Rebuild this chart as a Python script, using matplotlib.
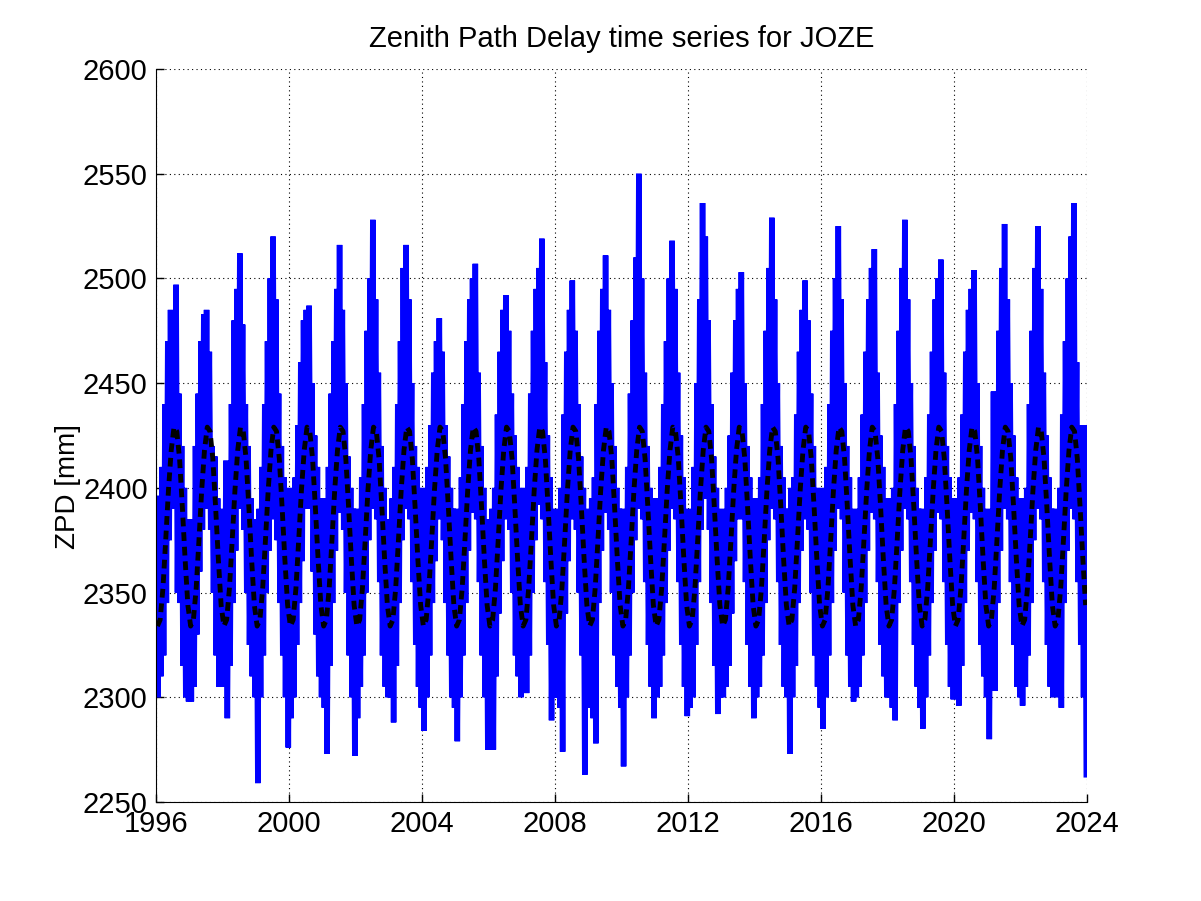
import numpy as np
import matplotlib
matplotlib.use("Agg")
import matplotlib.pyplot as plt

plt.rcParams['font.family'] = ['Liberation Sans', 'DejaVu Sans']

# years covered by the series
years = list(range(1996, 2024))

# monthly upper excursions of the ZPD series [mm], one row per year (Jan..Dec)
zpd_high = [
    [2395, 2385, 2410, 2440, 2470, 2485, 2480, 2497, 2445, 2420, 2400, 2385],  # 1996
    [2385, 2380, 2420, 2445, 2470, 2483, 2485, 2465, 2420, 2415, 2395, 2385],  # 1997
    [2390, 2413, 2405, 2440, 2480, 2495, 2512, 2478, 2440, 2420, 2395, 2380],  # 1998
    [2385, 2390, 2410, 2440, 2470, 2500, 2520, 2490, 2445, 2420, 2405, 2395],  # 1999
    [2400, 2390, 2405, 2430, 2460, 2480, 2485, 2487, 2450, 2425, 2410, 2395],  # 2000
    [2385, 2395, 2410, 2445, 2470, 2495, 2516, 2485, 2450, 2415, 2400, 2390],  # 2001
    [2390, 2385, 2405, 2440, 2475, 2500, 2528, 2490, 2455, 2420, 2400, 2385],  # 2002
    [2385, 2395, 2410, 2440, 2470, 2505, 2516, 2490, 2450, 2420, 2410, 2395],  # 2003
    [2400, 2395, 2410, 2430, 2455, 2470, 2481, 2465, 2430, 2415, 2400, 2390],  # 2004
    [2390, 2385, 2405, 2440, 2470, 2490, 2500, 2507, 2455, 2420, 2400, 2385],  # 2005
    [2385, 2390, 2400, 2435, 2465, 2485, 2492, 2475, 2445, 2425, 2410, 2395],  # 2006
    [2400, 2395, 2410, 2445, 2475, 2495, 2505, 2519, 2460, 2425, 2405, 2385],  # 2007
    [2390, 2385, 2400, 2435, 2465, 2485, 2499, 2475, 2440, 2415, 2400, 2385],  # 2008
    [2390, 2395, 2405, 2440, 2475, 2495, 2511, 2485, 2450, 2420, 2400, 2390],  # 2009
    [2390, 2385, 2410, 2445, 2480, 2510, 2550, 2500, 2455, 2420, 2400, 2390],  # 2010
    [2395, 2390, 2410, 2440, 2470, 2500, 2518, 2495, 2455, 2425, 2405, 2390],  # 2011
    [2385, 2390, 2410, 2450, 2490, 2536, 2520, 2480, 2440, 2415, 2400, 2385],  # 2012
    [2390, 2385, 2400, 2425, 2455, 2480, 2495, 2503, 2450, 2420, 2405, 2390],  # 2013
    [2395, 2390, 2405, 2440, 2475, 2505, 2529, 2490, 2450, 2420, 2405, 2390],  # 2014
    [2390, 2400, 2405, 2435, 2465, 2485, 2499, 2480, 2445, 2420, 2400, 2395],  # 2015
    [2400, 2390, 2410, 2440, 2475, 2500, 2525, 2490, 2450, 2420, 2405, 2390],  # 2016
    [2385, 2390, 2405, 2435, 2465, 2490, 2505, 2514, 2455, 2425, 2410, 2395],  # 2017
    [2395, 2385, 2400, 2440, 2475, 2505, 2528, 2490, 2450, 2420, 2400, 2390],  # 2018
    [2390, 2385, 2405, 2435, 2465, 2490, 2500, 2509, 2455, 2420, 2405, 2390],  # 2019
    [2395, 2390, 2405, 2435, 2465, 2485, 2495, 2504, 2450, 2420, 2400, 2390],  # 2020
    [2385, 2390, 2446, 2440, 2475, 2505, 2526, 2490, 2450, 2425, 2405, 2395],  # 2021
    [2395, 2385, 2400, 2440, 2475, 2505, 2525, 2495, 2455, 2425, 2405, 2390],  # 2022
    [2390, 2385, 2400, 2435, 2470, 2500, 2520, 2536, 2460, 2430, 2410, 2430],  # 2023
]

# monthly lower excursions of the ZPD series [mm]
zpd_low = [
    [2300, 2310, 2320, 2345, 2375, 2390, 2395, 2350, 2345, 2315, 2300, 2298],  # 1996
    [2298, 2305, 2330, 2360, 2380, 2395, 2390, 2380, 2350, 2320, 2305, 2306],  # 1997
    [2305, 2290, 2315, 2345, 2370, 2390, 2395, 2380, 2350, 2325, 2310, 2300],  # 1998
    [2259, 2300, 2320, 2350, 2370, 2385, 2395, 2375, 2345, 2320, 2300, 2276],  # 1999
    [2290, 2300, 2325, 2345, 2365, 2390, 2395, 2390, 2360, 2330, 2310, 2300],  # 2000
    [2295, 2273, 2315, 2345, 2370, 2388, 2392, 2380, 2350, 2320, 2300, 2272],  # 2001
    [2290, 2305, 2320, 2350, 2375, 2390, 2395, 2385, 2355, 2320, 2305, 2300],  # 2002
    [2300, 2288, 2315, 2345, 2375, 2390, 2398, 2385, 2355, 2325, 2305, 2295],  # 2003
    [2284, 2300, 2320, 2345, 2365, 2385, 2392, 2375, 2345, 2320, 2300, 2295],  # 2004
    [2279, 2300, 2320, 2345, 2370, 2388, 2395, 2385, 2355, 2320, 2300, 2275],  # 2005
    [2290, 2275, 2310, 2340, 2365, 2385, 2392, 2380, 2350, 2320, 2310, 2300],  # 2006
    [2305, 2302, 2320, 2350, 2375, 2392, 2398, 2385, 2355, 2325, 2289, 2300],  # 2007
    [2300, 2295, 2274, 2340, 2365, 2385, 2392, 2380, 2350, 2320, 2263, 2295],  # 2008
    [2300, 2290, 2278, 2345, 2370, 2388, 2395, 2380, 2350, 2320, 2305, 2295],  # 2009
    [2267, 2300, 2320, 2350, 2375, 2390, 2398, 2385, 2355, 2325, 2305, 2290],  # 2010
    [2300, 2305, 2320, 2345, 2370, 2390, 2395, 2385, 2355, 2325, 2305, 2291],  # 2011
    [2295, 2300, 2325, 2355, 2380, 2395, 2395, 2380, 2345, 2315, 2292, 2300],  # 2012
    [2300, 2305, 2315, 2340, 2365, 2385, 2392, 2385, 2355, 2325, 2305, 2290],  # 2013
    [2300, 2305, 2320, 2345, 2375, 2390, 2395, 2385, 2355, 2325, 2305, 2300],  # 2014
    [2273, 2300, 2315, 2345, 2370, 2385, 2392, 2380, 2350, 2320, 2305, 2295],  # 2015
    [2285, 2300, 2320, 2345, 2370, 2390, 2395, 2385, 2350, 2320, 2305, 2298],  # 2016
    [2300, 2305, 2320, 2345, 2370, 2388, 2395, 2385, 2355, 2325, 2310, 2300],  # 2017
    [2300, 2295, 2289, 2345, 2370, 2390, 2398, 2385, 2355, 2325, 2305, 2295],  # 2018
    [2285, 2300, 2320, 2345, 2370, 2388, 2395, 2385, 2355, 2325, 2305, 2299],  # 2019
    [2300, 2296, 2315, 2345, 2370, 2388, 2395, 2385, 2355, 2325, 2310, 2300],  # 2020
    [2280, 2310, 2303, 2345, 2370, 2390, 2395, 2385, 2355, 2325, 2305, 2300],  # 2021
    [2296, 2305, 2320, 2345, 2375, 2390, 2398, 2385, 2355, 2325, 2305, 2300],  # 2022
    [2305, 2300, 2295, 2345, 2370, 2390, 2395, 2385, 2355, 2325, 2300, 2263],  # 2023
]

# seasonal model (dashed), monthly values, same for each year
fit_month = [2334, 2337, 2352, 2375, 2399, 2418, 2429, 2427, 2414, 2391, 2366, 2344]

# build the zigzag: high in the first half of the month, low in the second half
t_obs, zpd = [], []
for i, yr in enumerate(years):
    for m in range(12):
        t_obs += [yr + (m + 0.25) / 12, yr + (m + 0.75) / 12]
        zpd += [zpd_high[i][m], zpd_low[i][m]]

t_fit, zpd_fit = [], []
for yr in years:
    for m in range(12):
        t_fit.append(yr + (m + 0.5) / 12)
        zpd_fit.append(fit_month[m])

fig = plt.figure(figsize=(12.01, 9.01), dpi=100)
ax = fig.add_axes([156 / 1201, 99 / 901, 931 / 1201, 733 / 901])

ax.plot(t_obs, zpd, color='#0000ff', linewidth=4, solid_joinstyle='miter')
ax.plot(t_fit, zpd_fit, color='black', linewidth=3.5, linestyle=(0, (1.8, 1.2)))

ax.set_xlim(1996, 2024)
ax.set_ylim(2250, 2600)
ax.set_xticks(range(1996, 2025, 4))
ax.set_yticks(range(2250, 2601, 50))

ax.grid(True, color='black', linestyle=(0, (1, 3)), linewidth=0.8)
ax.spines['top'].set_visible(False)
ax.spines['right'].set_visible(False)
ax.tick_params(direction='in', length=6, width=1, labelsize=21, pad=6)

ax.set_title("Zenith Path Delay time series for JOZE", fontsize=21, pad=16)
ax.set_ylabel("ZPD [mm]", fontsize=20)
ax.yaxis.set_label_coords(-0.0945, 0.43)
ax.yaxis.label.set_va('center')

fig.savefig("out.png", dpi=100)
